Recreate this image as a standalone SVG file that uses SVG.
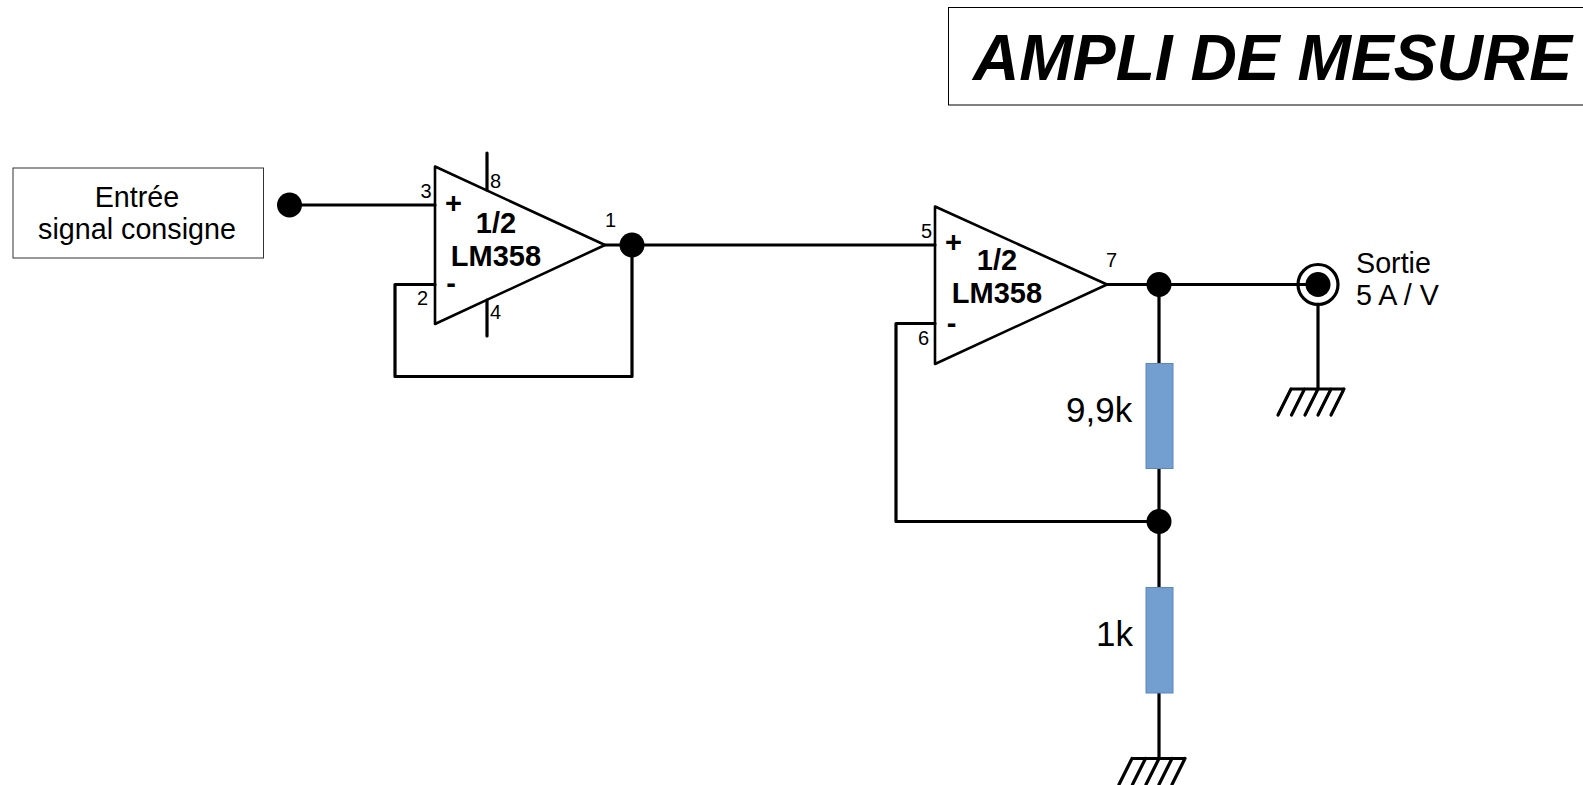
<svg xmlns="http://www.w3.org/2000/svg" width="1583" height="785" viewBox="0 0 1583 785">
<style>
text{font-family:"Liberation Sans",Arial,sans-serif;fill:#000}
.w{fill:none;stroke:#000;stroke-width:3.2;stroke-linecap:round;stroke-linejoin:round}
.t{fill:none;stroke:#000;stroke-width:2.6;stroke-linejoin:round}
.h{fill:none;stroke:#000;stroke-width:3.2;stroke-linecap:round}
.d{fill:#000}
.r{fill:#729fcf;stroke:#5a88c0;stroke-width:1}
.p{font-size:20px}
.b{font-size:29px;font-weight:bold;text-anchor:middle}
.l{font-size:28.700px}
</style>
<defs>
<g id="gnd"><path class="h" d="M-27 0H26M-27 0L-40 26M-13.500 0L-26.500 26M0 0L-13 26M13 0L0 26M26 0L13 26"/></g>
</defs>
<rect width="1583" height="785" fill="#fff"/>
<g id="connectors">
<path class="w" d="M290 205H435"/>
<path class="w" d="M395 284.500H435M395 284.500V376.500H632V245"/>
<path class="w" d="M605 245H935"/>
<path class="w" d="M487 153V190M487 300V336"/>
<path class="w" d="M1107 284.500H1318"/>
<path class="w" d="M1159 284V363M1159 469V587M1159 693V758"/>
<path class="w" d="M935 323.500H896V521.500H1159"/>
<path class="w" d="M1318 304V389"/>
</g>
<g id="title"><rect x="948.500" y="7.500" width="640" height="97.500" fill="#fff" stroke="#000" stroke-width="1"/>
<text x="973" y="79.500" font-size="64.200" font-weight="bold" font-style="italic">AMPLI DE MESURE</text></g>
<g id="input"><rect x="13" y="168" width="250.500" height="90" fill="#fff" stroke="#333" stroke-width="1"/>
<text x="137" y="207" class="l" text-anchor="middle">Entrée</text><text x="137" y="239" class="l" text-anchor="middle">signal consigne</text></g>
<g id="input-node"><circle class="d" cx="289.500" cy="205" r="12.500"/></g>
<g id="opamp1"><path class="t" d="M435 166.500L605 245L435 324Z" fill="#fff"/>
<text x="453.500" y="213" class="b">+</text><text x="451" y="293" class="b">-</text>
<text x="496" y="233" class="b">1/2</text><text x="496" y="265.500" class="b">LM358</text>
<text x="420.500" y="198" class="p">3</text><text x="417" y="305" class="p">2</text><text x="490" y="188" class="p">8</text><text x="490" y="319" class="p">4</text><text x="605" y="227" class="p">1</text></g>
<g id="node1"><circle class="d" cx="632" cy="245" r="12.500"/></g>
<g id="opamp2"><path class="t" d="M935 206.500L1107 284.500L935 364Z" fill="#fff"/>
<text x="953.500" y="252" class="b">+</text><text x="951.500" y="333" class="b">-</text>
<text x="997" y="270" class="b">1/2</text><text x="997" y="303" class="b">LM358</text>
<text x="921" y="238" class="p">5</text><text x="918" y="345" class="p">6</text><text x="1106" y="267" class="p">7</text></g>
<g id="node2"><circle class="d" cx="1159" cy="284.500" r="12.500"/></g>
<g id="r1"><rect class="r" x="1146" y="363.500" width="27" height="105"/><text x="1066" y="422" font-size="35">9,9k</text></g>
<g id="node3"><circle class="d" cx="1159" cy="521.500" r="12.500"/></g>
<g id="r2"><rect class="r" x="1146" y="587.500" width="27" height="105.500"/><text x="1096" y="646" font-size="35">1k</text></g>
<g id="output"><circle cx="1318" cy="284.500" r="20" fill="none" stroke="#000" stroke-width="3.200"/><circle class="d" cx="1318" cy="284.500" r="12.500"/>
<text x="1356" y="273" class="l">Sortie</text><text x="1356" y="305" class="l">5 A / V</text></g>
<g id="gnd1"><use href="#gnd" x="1318" y="389"/></g>
<g id="gnd2"><use href="#gnd" x="1159" y="758.500"/></g>
</svg>
